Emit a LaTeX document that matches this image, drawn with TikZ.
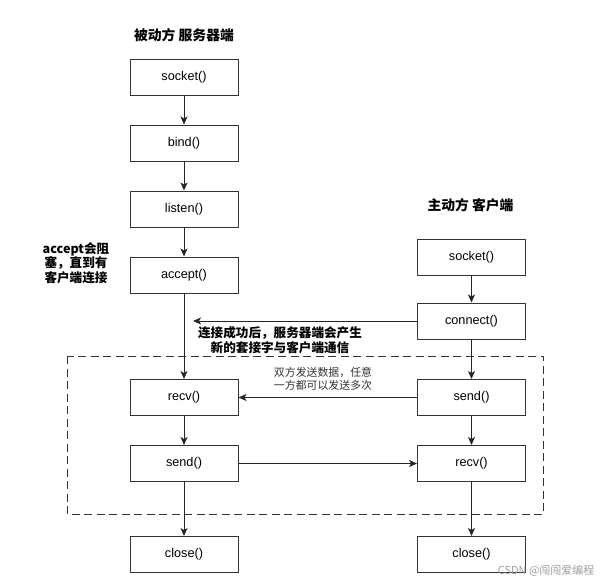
\documentclass[tikz,border=0pt]{standalone}
\usepackage{fontspec}
\setmainfont{Liberation Sans}
\newfontfamily\cjk{Noto Sans CJK SC}
\usetikzlibrary{arrows.meta}
\begin{document}
\begin{tikzpicture}[x=1pt,y=-1pt,
  box/.style={draw=black!80,line width=1pt,minimum width=108pt,minimum height=36pt,inner sep=0pt,font=\fontsize{12.7}{14}\selectfont},
  arr/.style={draw=black!85,line width=1pt,-{Stealth[length=8pt,width=7pt,inset=2pt]}},
  title/.style={font=\cjk\bfseries\fontsize{13.8}{16}\selectfont},
  note/.style={font=\cjk\bfseries\fontsize{12.6}{14.5}\selectfont,align=center},
  small/.style={font=\cjk\fontsize{10.9}{13}\selectfont,align=center,text=black!80}]
\useasboundingbox (0,0) rectangle (605,584);
% left column
\node[title] (t1) at (184,35) {被动方 服务器端};
\node[box] (ls) at (184,77) {socket()};
\node[box] (lb) at (184,143) {bind()};
\node[box] (ll) at (184,209) {listen()};
\node[box] (la) at (184,275) {accept()};
\node[box] (lr) at (184,397.5) {recv()};
\node[box] (lsd) at (184,463.5) {send()};
\node[box] (lc) at (184,554.5) {close()};
% right column
\node[title] (t2) at (470.5,205) {主动方 客户端};
\node[box] (rs) at (471.5,257) {socket()};
\node[box] (rc) at (471.5,321) {connect()};
\node[box] (rsd) at (471.5,397.5) {send()};
\node[box] (rr) at (471.5,463.5) {recv()};
\node[box] (rcl) at (471.5,554.5) {close()};
% dashed region
\draw[black!80,line width=1pt,dash pattern=on 8pt off 4.5pt] (67,356) rectangle (543.5,514);
% notes
\node[note] (n1) at (76,263) {accept会阻\\塞，直到有\\客户端连接};
\node[note] (n2) at (280,340) {连接成功后，服务器端会产生\\新的套接字与客户端通信};
\node[small] (n3) at (323,378.5) {双方发送数据，任意\\一方都可以发送多次};
\node[font=\cjk\fontsize{11}{13}\selectfont,text=black!38,anchor=east] (wm) at (598,571) {CSDN @闯闯爱编程};
% connectors
\draw[arr] (ls) -- (lb);
\draw[arr] (lb) -- (ll);
\draw[arr] (ll) -- (la);
\draw[arr] (la) -- (lr);
\draw[arr] (lr) -- (lsd);
\draw[arr] (lsd) -- (lc);
\draw[arr] (rs) -- (rc);
\draw[arr] (rc) -- (rsd);
\draw[arr] (rsd) -- (rr);
\draw[arr] (rr) -- (rcl);
\coordinate (cend) at (193,321);
\draw[arr] (rc.west) -- (cend);
\draw[arr] (rsd.west) -- (lr.east);
\draw[arr] (lsd.east) -- (rr.west);
\end{tikzpicture}
\end{document}
